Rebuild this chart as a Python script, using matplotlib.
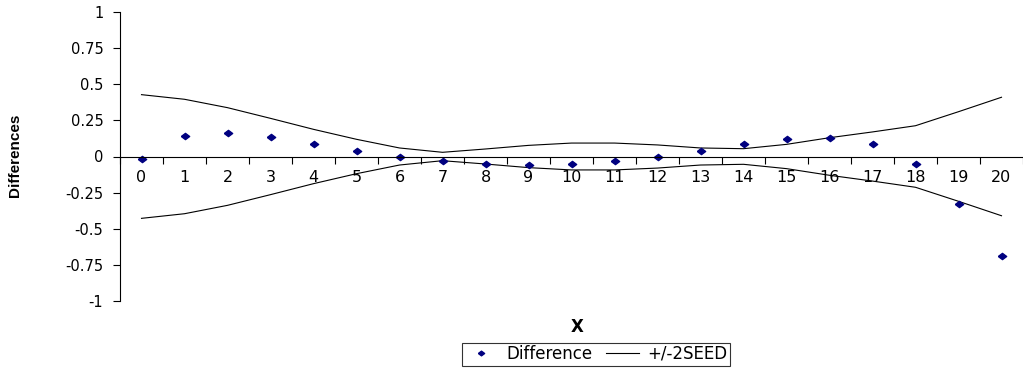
import numpy as np
import matplotlib as mpl
import matplotlib.pyplot as plt

mpl.use('agg')
plt.rcParams['font.family'] = ['DejaVu Sans']

# categories on the x axis
x_vals = list(range(21))
# observed differences (diamonds)
difference = [-0.015, 0.14, 0.165, 0.135, 0.089, 0.04, 0.0, -0.031, -0.052, -0.059,
              -0.052, -0.031, 0.0, 0.04, 0.084, 0.121, 0.13, 0.086, -0.054, -0.331, -0.69]
# +/- 2SEED band (upper half, lower is the mirror)
seed2 = [0.428, 0.396, 0.338, 0.264, 0.188, 0.119, 0.059, 0.029, 0.052, 0.077,
         0.093, 0.093, 0.08, 0.059, 0.054, 0.084, 0.13, 0.17, 0.213, 0.31, 0.41]
y_ticks = [1, 0.75, 0.5, 0.25, 0, -0.25, -0.5, -0.75, -1]

# flat diamond like the excel marker
flat_diamond = [(-1, 0), (0, 0.75), (1, 0), (0, -0.75), (-1, 0)]

fig = plt.figure(figsize=(10.23, 3.73), dpi=100)
ax = fig.add_axes([120/1023, 72/373, 903/1023, 289/373])

x = np.array(x_vals)
upper = np.array(seed2)
ax.plot(x, upper, color='black', lw=0.8, label='+/-2SEED')
ax.plot(x, -upper, color='black', lw=0.8)
ax.plot(x, difference, linestyle='none', marker=flat_diamond, markersize=6,
        color='#000080', label='Difference')

ax.set_ylim(-1, 1)
ax.set_xlim(-0.5, 20.36)
ax.set_yticks(y_ticks)
ax.set_yticklabels([('%g' % v) for v in y_ticks], fontsize=10.5)

ax.spines['top'].set_visible(False)
ax.spines['right'].set_visible(False)
ax.spines['bottom'].set_position(('data', 0))
ax.spines['left'].set_linewidth(0.8)
ax.spines['bottom'].set_linewidth(0.8)

# ticks between categories, labels on categories
ax.set_xticks(np.arange(-0.5, 20.6, 1))
ax.set_xticklabels([])
ax.set_xticks(x, minor=True)
ax.set_xticklabels([str(v) for v in x_vals], minor=True, fontsize=11.5)
ax.tick_params(axis='x', which='minor', length=0, pad=10)
ax.tick_params(axis='x', which='major', length=5, width=0.8, direction='out')
ax.tick_params(axis='y', length=5, width=0.8, pad=7)

fig.text(15/1023, 1 - 155/373, 'Differences', rotation=90, fontsize=11,
         fontweight='bold', family='Liberation Sans', ha='center', va='center')
fig.text(577/1023, 1 - 327/373, 'X', fontsize=12, fontweight='bold',
         ha='center', va='center')

h, l = ax.get_legend_handles_labels()
leg = fig.legend(h[::-1], l[::-1], ncol=2, loc='center',
                 bbox_to_anchor=(596/1023, 1 - 354/373), fontsize=12,
                 frameon=True, fancybox=False, edgecolor='black',
                 handlelength=2.0, handletextpad=0.5, columnspacing=0.8,
                 borderpad=0.15, markerscale=0.75)
leg.get_frame().set_linewidth(0.8)

fig.savefig('out.png', dpi=100)
